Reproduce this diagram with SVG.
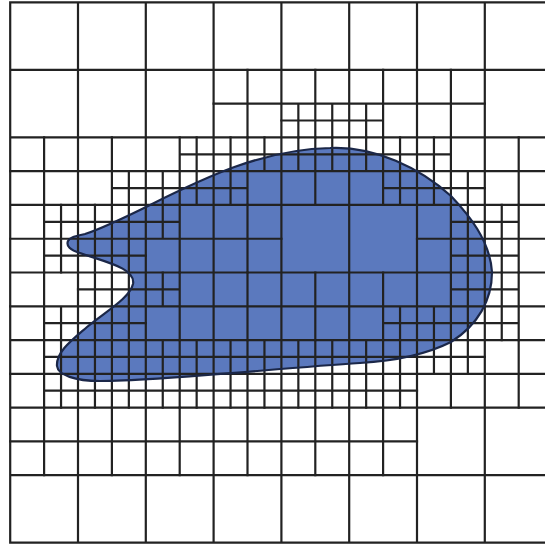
<svg xmlns="http://www.w3.org/2000/svg" width="545" height="546" viewBox="0 0 545 546">
<style>
.bg{fill:#ffffff}
.blob{fill:#5b79be;stroke:none}
.outline{fill:none;stroke:#1b2748;stroke-width:2.2}
.grid{fill:none;stroke:#222222;stroke-width:2.2;vector-effect:non-scaling-stroke;stroke-linecap:square}
</style>
<rect class="bg" x="0" y="0" width="545" height="546"/>
<path id="blob" class="blob" d="M80,253 C70,250 66,246 68,241 C70,237 76,236 85,234 C150,212 230,150 330,148 C375,146 420,168 451,196 C468,214 490,240 492,272 C492,300 478,325 451,342 C425,355 395,361 360,363 C280,368 160,381 100,381 C75,381 58,375 57,366 C56,352 72,340 87,327 C105,312 130,298 133,284 C136,268 105,262 80,253 Z"/>
<g id="grid" transform="translate(10.2 2.3) scale(16.95 16.8875)">
<path class="grid" d="M0 0V32 M4 0V32 M8 0V32 M12 0V32 M16 0V32 M20 0V32 M24 0V32 M28 0V32 M32 0V32
M0 0H32 M0 4H32 M0 8H32 M0 12H32 M0 16H32 M0 20H32 M0 24H32 M0 28H32 M0 32H32"/>
<path class="grid" d="M14 4V8 M12 6H16
M18 4V8 M16 6H20 M17 6V8 M16 7H18 M19 6V8 M18 7H20
M22 4V8 M20 6H24 M21 6V8 M20 7H22
M26 4V8 M24 6H28"/>
<path class="grid" d="M2 8V12 M0 10H4
M6 8V12 M4 10H8 M7 10V12 M6 11H8
M10 8V12 M8 10H12 M11 8V10 M10 9H12 M9 10V12 M8 11H10 M11 10V12 M10 11H12
M14 8V12 M12 10H16 M13 8V10 M12 9H14 M15 8V10 M14 9H16 M13 10V12 M12 11H14
M18 8V12 M16 10H20 M17 8V10 M16 9H18 M19 8V10 M18 9H20
M22 8V12 M20 10H24 M21 8V10 M20 9H22 M23 8V10 M22 9H24 M23 10V12 M22 11H24
M26 8V12 M24 10H28 M25 8V10 M24 9H26 M25 10V12 M24 11H26 M27 10V12 M26 11H28
M30 8V12 M28 10H32"/>
<path class="grid" d="M2 12V16 M0 14H4 M3 12V14 M2 13H4 M3 14V16 M2 15H4
M6 12V16 M4 14H8 M5 12V16 M7 12V16 M4 13H8 M4 15H8
M10 12V16 M8 14H12 M9 12V14 M8 13H10
M14 12V16 M12 14H16
M26 12V16 M24 14H28 M27 12V14 M26 13H28 M27 14V16 M26 15H28
M30 12V16 M28 14H32 M29 12V14 M28 13H30 M29 14V16 M28 15H30"/>
<path class="grid" d="M2 16V20 M0 18H4 M3 18V20 M2 19H4
M6 16V20 M4 18H8 M5 16V20 M7 16V20 M4 17H8 M4 19H8
M10 16V20 M8 18H12 M9 16V18 M8 17H10
M14 16V20 M12 18H16
M18 16V20 M16 18H20
M22 16V20 M20 18H24 M23 18V20 M22 19H24
M26 16V20 M24 18H28 M27 16V18 M26 17H28 M25 18V20 M24 19H26 M27 18V20 M26 19H28
M30 16V20 M28 18H32 M29 16V18 M28 17H30 M29 18V20 M28 19H30"/>
<path class="grid" d="M2 20V24 M3 20V24 M0 22H32 M2 21H28 M2 23H24
M5 20V24 M6 20V24 M7 20V24 M9 20V24 M10 20V24 M11 20V24 M13 20V24 M14 20V24 M15 20V24
M17 20V24 M18 20V24 M19 20V24 M21 20V24 M22 20V24 M23 20V24
M26 20V24 M25 20V22 M27 20V22 M30 20V24"/>
<path class="grid" d="M2 24V28 M6 24V28 M10 24V28 M14 24V28 M18 24V28 M22 24V28 M0 26H24"/>
</g>
<path id="blob-outline" class="outline" d="M80,253 C70,250 66,246 68,241 C70,237 76,236 85,234 C150,212 230,150 330,148 C375,146 420,168 451,196 C468,214 490,240 492,272 C492,300 478,325 451,342 C425,355 395,361 360,363 C280,368 160,381 100,381 C75,381 58,375 57,366 C56,352 72,340 87,327 C105,312 130,298 133,284 C136,268 105,262 80,253 Z"/>
</svg>
